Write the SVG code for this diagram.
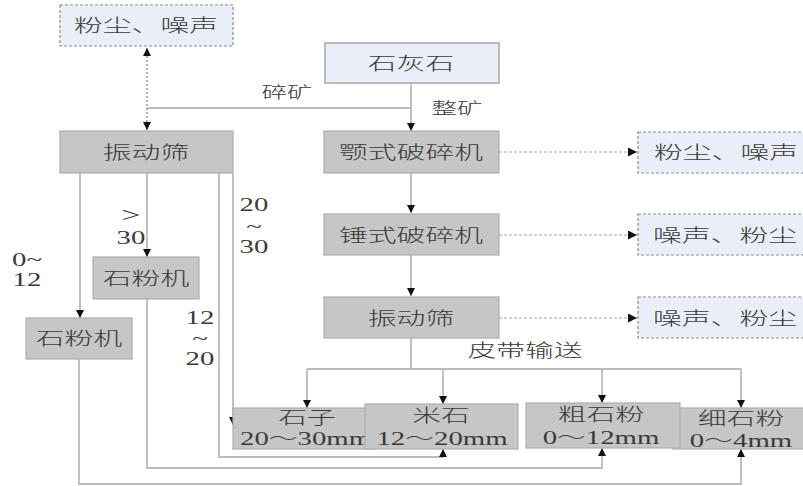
<svg xmlns="http://www.w3.org/2000/svg" width="803" height="486" viewBox="0 0 803 486">
<defs>
<style>
.t{font-family:"Liberation Serif","Noto Sans CJK SC",serif;font-size:18px;font-weight:300;fill:#3a3a3a;text-anchor:middle}
.ts{font-size:16px}
.st{text-anchor:start}
.gray{fill:#c6c6c6;stroke:#adadad;stroke-width:1.2}
.blue{fill:#e9eef8;stroke:#8c8c8c;stroke-width:1.2;stroke-dasharray:3 2}
.blues{fill:#e9eef8;stroke:#a6a6a6;stroke-width:1.5}
.ln{fill:none;stroke:#bcbcbc;stroke-width:1.8}
.dash{fill:none;stroke:#a5a5a5;stroke-width:1.1;stroke-dasharray:3 2}
.dot{fill:none;stroke:#888;stroke-width:1.3;stroke-dasharray:2 2}
</style>
<marker id="a" viewBox="0 0 10 10" refX="10" refY="5" markerWidth="8" markerHeight="10" markerUnits="userSpaceOnUse" orient="auto-start-reverse">
<path d="M0,0 L10,5 L0,10 z" fill="#111"/>
</marker>
<marker id="b" viewBox="0 0 10 10" refX="10" refY="5" markerWidth="12" markerHeight="9" markerUnits="userSpaceOnUse" orient="auto">
<path d="M0,0 L10,5 L0,10 z" fill="#111"/>
</marker>
</defs>

<g id="connectors">
<path class="ln" d="M411,83 V131" marker-end="url(#a)"/>
<path class="ln" d="M411,108 H147"/>
<path class="dot" d="M147,48 V130" marker-start="url(#a)" marker-end="url(#a)"/>
<path class="ln" d="M411,173 V213" marker-end="url(#a)"/>
<path class="ln" d="M411,255 V296" marker-end="url(#a)"/>
<path class="ln" d="M411,338 V369"/>
<path class="ln" d="M307,369 H741"/>
<path class="ln" d="M307,369 V408" marker-end="url(#a)"/>
<path class="ln" d="M443,369 V404" marker-end="url(#a)"/>
<path class="ln" d="M602,369 V403" marker-end="url(#a)"/>
<path class="ln" d="M741,369 V408" marker-end="url(#a)"/>
<path class="dash" d="M499,152 H637" marker-end="url(#b)"/>
<path class="dash" d="M499,235 H637" marker-end="url(#b)"/>
<path class="dash" d="M499,318 H637" marker-end="url(#b)"/>
<path class="ln" d="M80,173 V318" marker-end="url(#a)"/>
<path class="ln" d="M147,173 V257" marker-end="url(#a)"/>
<path class="ln" d="M219,173 V457 H443 V449" marker-end="url(#a)"/>
<path class="ln" d="M233,173 V425" marker-end="url(#a)"/>
<path class="ln" d="M147,299 V468 H602 V448" marker-end="url(#a)"/>
<path class="ln" d="M79,359 V484 H741 V449" marker-end="url(#a)"/>
</g>

<g id="labels">
<text class="t ts" transform="translate(287,98) scale(1.6,1)">碎矿</text>
<text class="t ts" transform="translate(457,114) scale(1.6,1)">整矿</text>
<text class="t" transform="translate(525,357) scale(1.6,1)">皮带输送</text>
<text class="t" style="font-size:21px" transform="translate(131,222) scale(1.6,1)">&gt;</text>
<text class="t" transform="translate(131,244) scale(1.6,1)">30</text>
<text class="t" transform="translate(27,266) scale(1.6,1)">0~</text>
<text class="t" transform="translate(27,286) scale(1.6,1)">12</text>
<text class="t" transform="translate(254,211) scale(1.6,1)">20</text>
<text class="t" transform="translate(254,233) scale(1.6,1)">~</text>
<text class="t" transform="translate(254,253) scale(1.6,1)">30</text>
<text class="t" transform="translate(200,324) scale(1.6,1)">12</text>
<text class="t" transform="translate(200,345) scale(1.6,1)">~</text>
<text class="t" transform="translate(200,365) scale(1.6,1)">20</text>
</g>

<g id="n-emission-top">
<rect class="blue" x="60" y="5" width="173" height="41"/>
<text class="t" transform="translate(146,32) scale(1.6,1)">粉尘、噪声</text>
</g>
<g id="n-screen-left">
<rect class="gray" x="60" y="131" width="173" height="42"/>
<text class="t" transform="translate(146,159) scale(1.6,1)">振动筛</text>
</g>
<g id="n-limestone">
<rect class="blues" x="325" y="43" width="174" height="40"/>
<text class="t" transform="translate(411,70) scale(1.6,1)">石灰石</text>
</g>
<g id="n-jaw">
<rect class="gray" x="324" y="131" width="175" height="42"/>
<text class="t" transform="translate(411,159) scale(1.6,1)">颚式破碎机</text>
</g>
<g id="n-emission-1">
<rect class="blue" x="638" y="132" width="170" height="41"/>
<text class="t" transform="translate(726,159) scale(1.6,1)">粉尘、噪声</text>
</g>
<g id="n-hammer">
<rect class="gray" x="324" y="214" width="175" height="41"/>
<text class="t" transform="translate(411,242) scale(1.6,1)">锤式破碎机</text>
</g>
<g id="n-emission-2">
<rect class="blue" x="638" y="214" width="170" height="41"/>
<text class="t" transform="translate(725,242) scale(1.6,1)">噪声、粉尘</text>
</g>
<g id="n-screen-mid">
<rect class="gray" x="324" y="297" width="175" height="41"/>
<text class="t" transform="translate(411,325) scale(1.6,1)">振动筛</text>
</g>
<g id="n-emission-3">
<rect class="blue" x="638" y="297" width="170" height="41"/>
<text class="t" transform="translate(725,325) scale(1.6,1)">噪声、粉尘</text>
</g>
<g id="n-mill-upper">
<rect class="gray" x="93" y="257" width="106" height="42"/>
<text class="t" transform="translate(146,285) scale(1.6,1)">石粉机</text>
</g>
<g id="n-mill-lower">
<rect class="gray" x="26" y="318" width="106" height="41"/>
<text class="t" transform="translate(79,345) scale(1.6,1)">石粉机</text>
</g>
<g id="n-fine-powder">
<rect class="gray" x="673" y="408" width="135" height="41"/>
<text class="t" transform="translate(741,425) scale(1.6,1)">细石粉</text>
<text class="t" transform="translate(741,447) scale(1.6,1)">0～4mm</text>
</g>
<g id="n-stone">
<rect class="gray" x="233" y="408" width="142" height="41"/>
<text class="t" transform="translate(307,424) scale(1.6,1)">石子</text>
<text class="t st" transform="translate(240,445) scale(1.6,1)">20～30mm</text>
</g>
<g id="n-rice-stone">
<rect class="gray" x="365" y="404" width="153" height="45"/>
<text class="t" transform="translate(441,422) scale(1.6,1)">米石</text>
<text class="t" transform="translate(442,445) scale(1.6,1)">12～20mm</text>
</g>
<g id="n-coarse-powder">
<rect class="gray" x="526" y="403" width="154" height="45"/>
<text class="t" transform="translate(601,421) scale(1.6,1)">粗石粉</text>
<text class="t" transform="translate(601,444) scale(1.6,1)">0～12mm</text>
</g>
</svg>
